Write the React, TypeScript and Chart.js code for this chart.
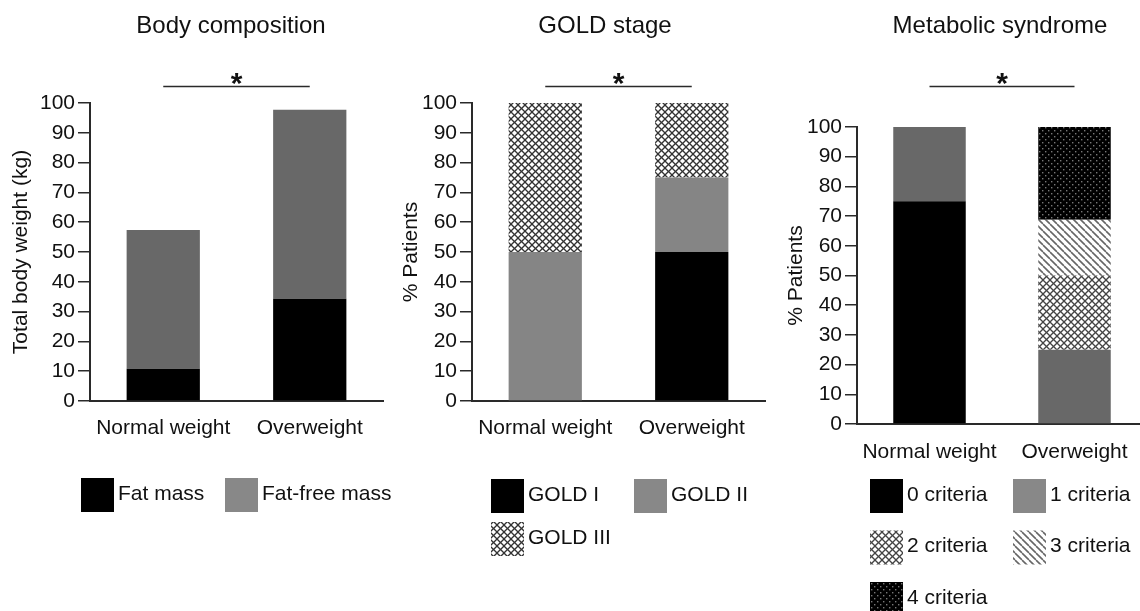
import React, { useEffect, useRef } from "react";
import { Chart, registerables } from "chart.js";

Chart.register(...registerables);

// ---------- data ----------
const categories = ["Normal weight", "Overweight"];
const yTickMin = 0;
const yTickMax = 100;
const yTickStep = 10;
const significanceMark = "*";

const bodyTitle = "Body composition";
const bodyAxisTitle = "Total body weight (kg)";
const bodyLabels = ["Fat mass", "Fat-free mass"];
const fatMass = [10.8, 34.3];
const fatFreeMass = [46.6, 63.4];

const goldTitle = "GOLD stage";
const goldAxisTitle = "% Patients";
const goldLabels = ["GOLD I", "GOLD II", "GOLD III"];
const goldI = [0, 50];
const goldII = [50, 25];
const goldIII = [50, 25];

const metTitle = "Metabolic syndrome";
const metAxisTitle = "% Patients";
const metLabels = ["0 criteria", "1 criteria", "2 criteria", "3 criteria", "4 criteria"];
const crit0 = [75, 0];
const crit1 = [25, 25];
const crit2 = [0, 25];
const crit3 = [0, 18.75];
const crit4 = [0, 31.25];

// ---------- style / layout ----------
const FONT = '"Liberation Sans", Arial, Helvetica, sans-serif';
const TEXT = "#111";
const AXIS = "#2a2a2a";
const CW = 1160;
const H = 611;
const Y_W = 85;
const X_H = 50;

type Spec = {
  axisX: number;
  right: number;
  top: number;
  bottom: number;
  yTitleMid: number;
  titleX: number;
  legendX: number;
  legendY: number;
  colW: number;
  rowH: number;
  labelPad: number;
};

const spec1: Spec = { axisX: 90, right: 383, top: 103, bottom: 401, yTitleMid: 21.5, titleX: 231, legendX: 81, legendY: 478, colW: 144, rowH: 44, labelPad: 7 };
const spec2: Spec = { axisX: 472, right: 765, top: 103, bottom: 401, yTitleMid: 411, titleX: 605, legendX: 491, legendY: 479, colW: 143, rowH: 43, labelPad: 7 };
const spec3: Spec = { axisX: 857, right: 1147, top: 127, bottom: 424, yTitleMid: 796.5, titleX: 1000, legendX: 870, legendY: 479, colW: 143, rowH: 51.5, labelPad: 8 };

function tile(size: number, bg: string) {
  const c = document.createElement("canvas");
  c.width = size;
  c.height = size;
  const g = c.getContext("2d") as CanvasRenderingContext2D;
  g.fillStyle = bg;
  g.fillRect(0, 0, size, size);
  return { c, g };
}

function crossHatch(size: number, color: string, lw: number) {
  const { c, g } = tile(size, "#fff");
  g.strokeStyle = color;
  g.lineWidth = lw;
  for (const o of [-size, 0, size]) {
    g.beginPath();
    g.moveTo(o, 0);
    g.lineTo(o + size, size);
    g.stroke();
    g.beginPath();
    g.moveTo(o + size, 0);
    g.lineTo(o, size);
    g.stroke();
  }
  return g.createPattern(c, "repeat") as CanvasPattern;
}

function diagonal(size: number, color: string, lw: number) {
  const { c, g } = tile(size, "#fff");
  g.strokeStyle = color;
  g.lineWidth = lw;
  for (const o of [-size, 0, size]) {
    g.beginPath();
    g.moveTo(o, 0);
    g.lineTo(o + size, size);
    g.stroke();
  }
  return g.createPattern(c, "repeat") as CanvasPattern;
}

function dots(size: number, dot: string) {
  const { c, g } = tile(size, "#000");
  g.fillStyle = dot;
  g.fillRect(1, 1, 1.4, 1.4);
  g.fillRect(1 + size / 2, 1 + size / 2, 1.4, 1.4);
  return g.createPattern(c, "repeat") as CanvasPattern;
}

const decorPlugin = {
  id: "decor",
  afterDraw(chart: any, _args: any, opts: any) {
    const ctx: CanvasRenderingContext2D = chart.ctx;
    const xs = chart.scales.x;
    ctx.save();
    ctx.fillStyle = TEXT;
    ctx.textAlign = "center";
    ctx.textBaseline = "middle";
    ctx.font = `24px ${FONT}`;
    ctx.fillText(opts.title, opts.titleX, 26);

    const x0 = xs.getPixelForValue(0);
    const x1 = xs.getPixelForValue(1);
    const sigY = 86.5;
    ctx.strokeStyle = AXIS;
    ctx.lineWidth = 1.5;
    ctx.beginPath();
    ctx.moveTo(x0, sigY);
    ctx.lineTo(x1, sigY);
    ctx.stroke();
    ctx.font = `bold 30px ${FONT}`;
    ctx.textBaseline = "alphabetic";
    ctx.fillText(significanceMark, (x0 + x1) / 2, sigY + 6);

    ctx.font = `21px ${FONT}`;
    ctx.textAlign = "left";
    ctx.textBaseline = "middle";
    chart.data.datasets.forEach((ds: any, i: number) => {
      const col = i % 2;
      const row = Math.floor(i / 2);
      const bx = opts.legendX + col * opts.colW;
      const by = opts.legendY + row * opts.rowH;
      ctx.fillStyle = ds.legendFill || ds.backgroundColor;
      ctx.fillRect(bx, by, 33, 34);
      ctx.fillStyle = TEXT;
      ctx.fillText(ds.label, bx + 37, by + 16);
    });
    ctx.restore();
  },
};

type DS = { label: string; data: number[]; fill: any; legendFill?: any };

function buildConfig(spec: Spec, title: string, yTitle: string, datasets: DS[]): any {
  const font = { family: FONT, size: 21 };
  return {
    type: "bar",
    data: {
      labels: categories,
      datasets: datasets.map((d) => ({
        label: d.label,
        data: d.data,
        backgroundColor: d.fill,
        legendFill: d.legendFill,
        borderWidth: 0,
        categoryPercentage: 1,
        barPercentage: 0.5,
      })),
    },
    options: {
      responsive: false,
      animation: false,
      events: [],
      layout: {
        padding: {
          left: spec.axisX - Y_W,
          right: CW - spec.right,
          top: spec.top,
          bottom: H - spec.bottom - X_H,
        },
      },
      plugins: {
        legend: { display: false },
        tooltip: { enabled: false },
        title: { display: false },
        decor: {
          title,
          titleX: spec.titleX,
          legendX: spec.legendX,
          legendY: spec.legendY,
          colW: spec.colW,
          rowH: spec.rowH,
        },
      },
      scales: {
        x: {
          stacked: true,
          grid: { display: false },
          border: { display: true, color: AXIS, width: 2 },
          ticks: { font, color: TEXT, padding: spec.labelPad, maxRotation: 0, autoSkip: false },
          afterFit: (s: any) => {
            s.height = X_H;
          },
        },
        y: {
          stacked: true,
          min: yTickMin,
          max: yTickMax,
          border: { display: true, color: AXIS, width: 2 },
          grid: { display: true, drawOnChartArea: false, drawTicks: true, tickLength: 12, color: AXIS, lineWidth: 1.5 },
          ticks: { stepSize: yTickStep, font, color: TEXT, padding: 3 },
          title: {
            display: true,
            text: yTitle,
            font,
            color: TEXT,
            padding: { top: spec.yTitleMid - (spec.axisX - Y_W) - 12.6, bottom: 0 },
          },
          afterFit: (s: any) => {
            s.width = Y_W;
          },
        },
      },
    },
    plugins: [decorPlugin],
  };
}

export default function App() {
  const r1 = useRef<HTMLCanvasElement>(null);
  const r2 = useRef<HTMLCanvasElement>(null);
  const r3 = useRef<HTMLCanvasElement>(null);

  useEffect(() => {
    const goldCross = crossHatch(7, "#333", 1.3);
    const metCross = crossHatch(7, "#444", 1.3);
    const metDiag = diagonal(7, "#666", 1.6);
    const metDots = dots(6, "#777");

    const charts = [
      new Chart(
        r1.current as HTMLCanvasElement,
        buildConfig(spec1, bodyTitle, bodyAxisTitle, [
          { label: bodyLabels[0], data: fatMass, fill: "#000" },
          { label: bodyLabels[1], data: fatFreeMass, fill: "#686868", legendFill: "#888" },
        ])
      ),
      new Chart(
        r2.current as HTMLCanvasElement,
        buildConfig(spec2, goldTitle, goldAxisTitle, [
          { label: goldLabels[0], data: goldI, fill: "#000" },
          { label: goldLabels[1], data: goldII, fill: "#858585", legendFill: "#888" },
          { label: goldLabels[2], data: goldIII, fill: goldCross },
        ])
      ),
      new Chart(
        r3.current as HTMLCanvasElement,
        buildConfig(spec3, metTitle, metAxisTitle, [
          { label: metLabels[0], data: crit0, fill: "#000" },
          { label: metLabels[1], data: crit1, fill: "#686868", legendFill: "#888" },
          { label: metLabels[2], data: crit2, fill: metCross },
          { label: metLabels[3], data: crit3, fill: metDiag },
          { label: metLabels[4], data: crit4, fill: metDots },
        ])
      ),
    ];
    return () => charts.forEach((c) => c.destroy());
  }, []);

  const cs: React.CSSProperties = { position: "absolute", left: 0, top: 0, width: CW, height: H };
  return (
    <div style={{ position: "fixed", left: 0, top: 0, width: 1140, height: H, overflow: "hidden", background: "#fff" }}>
      <canvas ref={r1} width={CW} height={H} style={cs} />
      <canvas ref={r2} width={CW} height={H} style={cs} />
      <canvas ref={r3} width={CW} height={H} style={cs} />
    </div>
  );
}
